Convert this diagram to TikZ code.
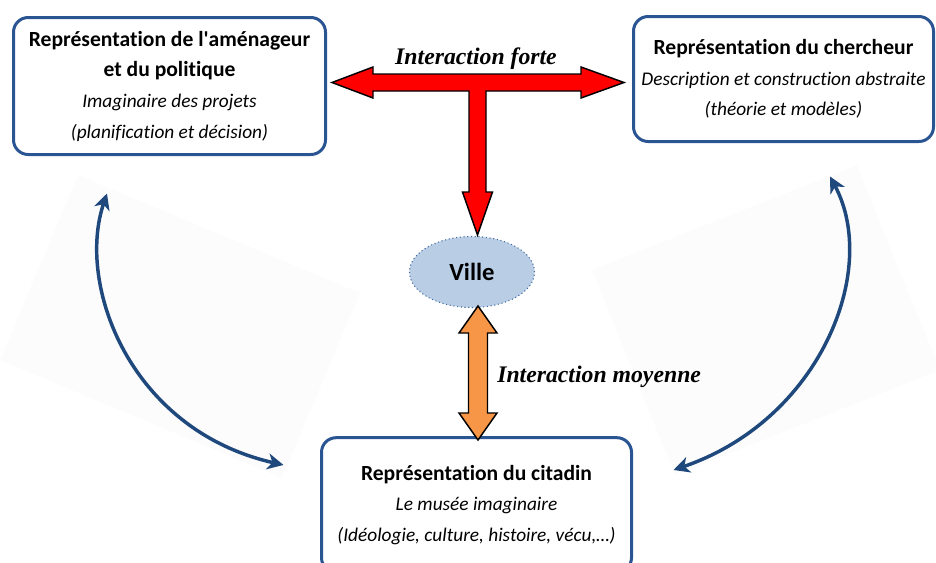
\documentclass[tikz,border=0pt]{standalone}
\usepackage{fontspec}
\usepackage{xcolor}
\usepackage{tikz}
\setmainfont{Carlito}[Ligatures={NoCommon}]
\newfontfamily\timesfont{Liberation Serif}
\usetikzlibrary{arrows.meta}
\usetikzlibrary{shapes.geometric}
\usetikzlibrary{positioning}
\definecolor{boxblue}{RGB}{42,85,146}
\definecolor{arcblue}{RGB}{31,73,125}
\definecolor{villefill}{RGB}{185,205,229}
\definecolor{villedraw}{RGB}{64,105,160}
\definecolor{fortered}{RGB}{255,0,0}
\definecolor{moyorange}{RGB}{247,150,70}
\newcommand{\titleline}[1]{{\fontsize{16.2}{23}\selectfont\bfseries #1}}
\newcommand{\subline}[1]{{\fontsize{14.5}{23}\selectfont\itshape #1}}
\tikzstyle{repbox} = [draw=boxblue, line width=2.25pt, fill=white,
rectangle, rounded corners=11pt, align=center, inner sep=0pt,
font=\fontsize{14.5}{23}\selectfont]
\tikzstyle{villebox} = [ellipse, draw=villedraw, dotted, line width=0.8pt,
fill=villefill, inner sep=0pt, minimum width=93.75pt, minimum height=53.25pt,
font=\fontsize{18.5}{18.5}\selectfont\bfseries]
\tikzstyle{biglabel} = [font=\timesfont\bfseries\itshape\fontsize{17.8}{17.8}\selectfont, inner sep=0pt]
\tikzstyle{cyclearrow} = [draw=arcblue, line width=2.6pt,
{Stealth[length=12pt,width=12pt,inset=3.5pt]}-{Stealth[length=12pt,width=12pt,inset=3.5pt]}]
\tikzstyle{fatarrow} = [draw=black, line width=1.1pt, miter limit=10]
\tikzstyle{shadowsheet} = [fill=black!1]

\begin{document}
\begin{tikzpicture}[x=0.75pt,y=-0.75pt]
        \clip (0,0) rectangle (936,562);
        % faint sheets behind the curved arrows
        \fill[shadowsheet] (78,175) -- (360,293) -- (282,478) -- (0,360) -- cycle;
        \fill[shadowsheet] (592,270) -- (857,165) -- (940,370) -- (675,475) -- cycle;

        \node[repbox, minimum width=234pt, minimum height=102.75pt] (amen) at (169.5,86) {%
            \titleline{Représentation de l\textquotesingle aménageur}\\
            \titleline{et du politique}\\
            \subline{Imaginaire des projets}\\
            \subline{(planification et décision)}};
        \node[repbox, minimum width=225pt, minimum height=93.75pt] (cherch) at (783.5,79) {%
            \titleline{Représentation du chercheur}\\
            \subline{Description et construction abstraite}\\
            \subline{(théorie et modèles)}};
        \node[repbox, minimum width=232.5pt, minimum height=101pt] (citadin) at (476.5,505) {%
            \titleline{Représentation du citadin}\\
            \subline{Le musée imaginaire}\\
            \subline{(Idéologie, culture, histoire, vécu,…)}};
        \node[villebox] (ville) at (472,272) {Ville};

        % strong interaction (T arrow)
        \filldraw[fatarrow, fill=fortered] (332,82.5) -- (373,67) -- (373,74) -- (581,74) -- (581,67)
            -- (624,82.5) -- (581,98) -- (581,91) -- (486,91) -- (486,192) -- (492.5,192)
            -- (477.5,235) -- (462.5,192) -- (469,192) -- (469,91) -- (373,91) -- (373,98) -- cycle;
        \node[biglabel, anchor=base] (forte) at (476,64) {Interaction forte};

        % medium interaction
        \filldraw[fatarrow, fill=moyorange] (478,306) -- (497,333) -- (487.5,333) -- (487.5,413)
            -- (497,413) -- (478,440) -- (459,413) -- (468.5,413) -- (468.5,333) -- (459,333) -- cycle;
        \node[biglabel, anchor=base west] (moyenne) at (497,382) {Interaction moyenne};

        % curved arrows
        \draw[cyclearrow] ([shift={(-62.5,37.5)}]amen.south) .. controls (76,285) and (130,430)
            .. ([shift={(-36.5,-40)}]citadin.west);
        \draw[cyclearrow] ([shift={(46.5,33.5)}]cherch.south) .. controls (880,270) and (820,420)
            .. ([shift={(40.5,-35)}]citadin.east);
    \end{tikzpicture}
\end{document}
